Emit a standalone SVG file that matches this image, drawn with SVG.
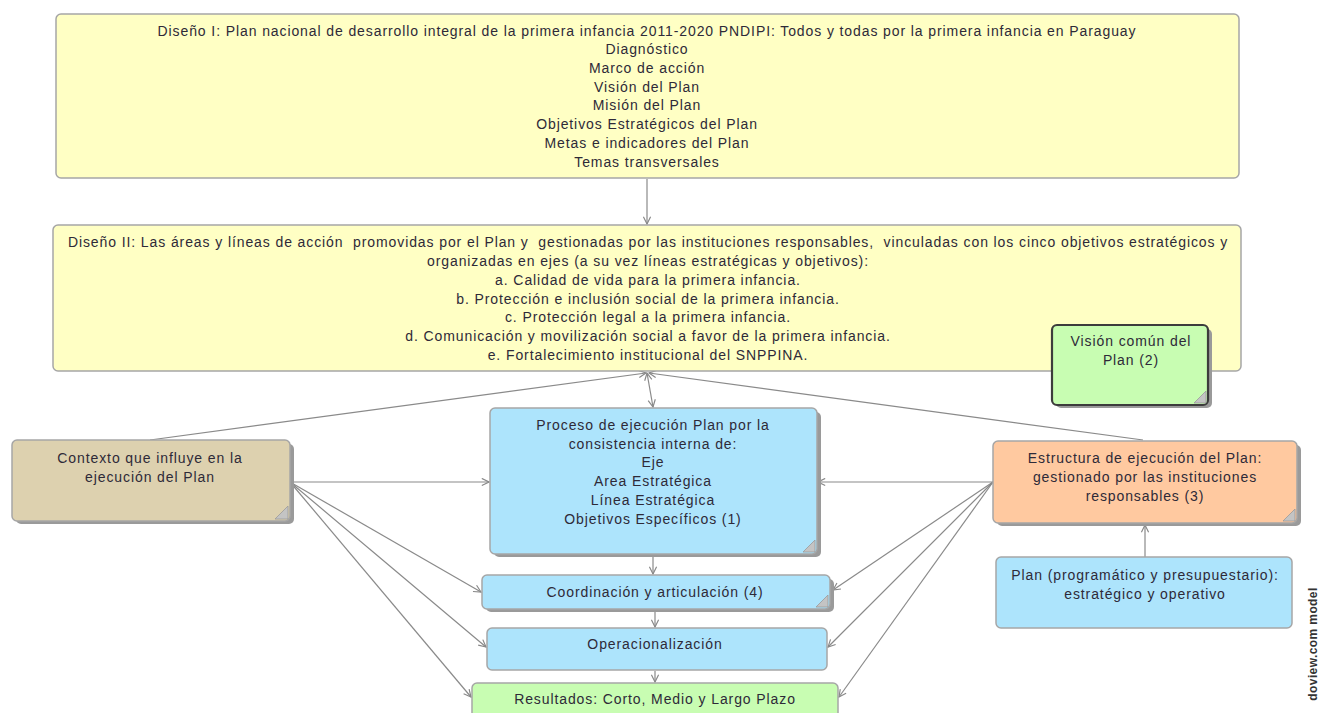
<svg xmlns="http://www.w3.org/2000/svg" width="1319" height="713" viewBox="0 0 1319 713">
<defs>
<marker id="arr" viewBox="0 0 10 10" refX="9" refY="5" markerWidth="9" markerHeight="9" markerUnits="userSpaceOnUse" orient="auto-start-reverse">
<path d="M1,1 L9,5 L1,9" fill="none" stroke="#888" stroke-width="1.3"/>
</marker>
</defs>
<style>
text{font-family:"Liberation Sans",Arial,sans-serif;font-size:14px;fill:#2e2a38;text-anchor:middle;letter-spacing:0.9px}
.box{stroke:#a6a6a6;stroke-width:1.5}
.yel{fill:#ffffc4}
.blue{fill:#ade4fc}
.tan{fill:#ddd1af}
.peach{fill:#ffc9a0}
.green{fill:#c8fdb2}
.sh{fill:#9a9a9a}
.fold{fill:#c4c4c4;stroke:#9a9a9a;stroke-width:0.8}
.con{stroke:#8a8a8a;stroke-width:1.2;fill:none;marker-end:url(#arr)}
</style>
<rect width="1319" height="713" fill="#fff"/>

<g id="connectors">
<line class="con" x1="647" y1="179" x2="647" y2="224"/>
<line class="con" x1="150" y1="440" x2="646" y2="373"/>
<line class="con" x1="1143" y1="440" x2="649" y2="373"/>
<line class="con" x1="647" y1="373" x2="653" y2="407" style="marker-start:url(#arr)"/>
<line class="con" x1="290" y1="482" x2="489" y2="482"/>
<line class="con" x1="290" y1="482" x2="481" y2="592"/>
<line class="con" x1="290" y1="482" x2="486" y2="647"/>
<line class="con" x1="290" y1="482" x2="471" y2="697"/>
<line class="con" x1="993" y1="482" x2="818" y2="482"/>
<line class="con" x1="993" y1="482" x2="833" y2="590"/>
<line class="con" x1="993" y1="482" x2="828" y2="647"/>
<line class="con" x1="993" y1="482" x2="839" y2="697"/>
<line class="con" x1="653" y1="555" x2="653" y2="574"/>
<line class="con" x1="655" y1="610" x2="655" y2="627"/>
<line class="con" x1="655" y1="671" x2="655" y2="682"/>
<line class="con" x1="1145" y1="557" x2="1145" y2="525"/>
</g>

<g id="diseno1">
<rect class="box yel" x="56" y="14" width="1183" height="164" rx="5"/>
<text x="647" y="36">Diseño I: Plan nacional de desarrollo integral de la primera infancia 2011-2020 PNDIPI: Todos y todas por la primera infancia en Paraguay</text>
<text x="647" y="54">Diagnóstico</text>
<text x="647" y="73">Marco de acción</text>
<text x="647" y="92">Visión del Plan</text>
<text x="647" y="110">Misión del Plan</text>
<text x="647" y="129">Objetivos Estratégicos del Plan</text>
<text x="647" y="148">Metas e indicadores del Plan</text>
<text x="647" y="167">Temas transversales</text>
</g>

<g id="diseno2">
<rect class="box yel" x="53" y="225" width="1188" height="146" rx="5"/>
<text x="648" y="247" xml:space="preserve">Diseño II: Las áreas y líneas de acción  promovidas por el Plan y  gestionadas por las instituciones responsables,  vinculadas con los cinco objetivos estratégicos y</text>
<text x="648" y="266">organizadas en ejes (a su vez líneas estratégicas y objetivos):</text>
<text x="648" y="285">a. Calidad de vida para la primera infancia.</text>
<text x="648" y="304">b. Protección e inclusión social de la primera infancia.</text>
<text x="648" y="322">c. Protección legal a la primera infancia.</text>
<text x="648" y="341">d. Comunicación y movilización social a favor de la primera infancia.</text>
<text x="648" y="360">e. Fortalecimiento institucional del SNPPINA.</text>
</g>

<g id="vision">
<rect class="sh" x="1056" y="329" width="156" height="79" rx="5"/>
<rect class="green" x="1052" y="325" width="156" height="80" rx="5" stroke="#3c3c3c" stroke-width="2.2"/>
<path class="fold" d="M1206,391 L1206,403 L1194,403 Z"/>
<text x="1131" y="346">Visión común del</text>
<text x="1131" y="365">Plan (2)</text>
</g>

<g id="contexto">
<rect class="sh" x="16" y="444" width="278" height="80" rx="5"/>
<rect class="box tan" x="12" y="440" width="278" height="81" rx="5"/>
<path class="fold" d="M288,506 L288,519 L275,519 Z"/>
<text x="150" y="463">Contexto que influye en la</text>
<text x="150" y="482">ejecución del Plan</text>
</g>

<g id="proceso">
<rect class="sh" x="494" y="412" width="327" height="145" rx="5"/>
<rect class="box blue" x="490" y="408" width="327" height="146" rx="5"/>
<path class="fold" d="M815,540 L815,552 L803,552 Z"/>
<text x="653" y="430">Proceso de ejecución Plan por la</text>
<text x="653" y="449">consistencia interna de:</text>
<text x="653" y="467">Eje</text>
<text x="653" y="486">Area Estratégica</text>
<text x="653" y="505">Línea Estratégica</text>
<text x="653" y="524">Objetivos Específicos (1)</text>
</g>

<g id="coordinacion">
<rect class="sh" x="486" y="579" width="348" height="33" rx="5"/>
<rect class="box blue" x="482" y="575" width="348" height="34" rx="5"/>
<path class="fold" d="M828,595 L828,607 L816,607 Z"/>
<text x="655" y="597">Coordinación y articulación (4)</text>
</g>

<g id="operacionalizacion">
<rect class="box blue" x="487" y="628" width="340" height="42" rx="5"/>
<text x="655" y="649">Operacionalización</text>
</g>

<g id="resultados">
<rect class="box green" x="472" y="683" width="366" height="40" rx="5"/>
<text x="655" y="704">Resultados: Corto, Medio y Largo Plazo</text>
</g>

<g id="estructura">
<rect class="sh" x="997" y="445" width="304" height="81" rx="5"/>
<rect class="box peach" x="993" y="441" width="304" height="82" rx="5"/>
<path class="fold" d="M1295,509 L1295,521 L1283,521 Z"/>
<text x="1145" y="463">Estructura de ejecución del Plan:</text>
<text x="1145" y="482">gestionado por las instituciones</text>
<text x="1145" y="501">responsables (3)</text>
</g>

<g id="plan">
<rect class="box blue" x="996" y="557" width="296" height="71" rx="5"/>
<text x="1145" y="580">Plan (programático y presupuestario):</text>
<text x="1145" y="599">estratégico y operativo</text>
</g>

<text x="1317" y="644" transform="rotate(-90 1317 644)" style="font-size:12px;font-weight:bold;fill:#333;letter-spacing:0.4px">doview.com model</text>
</svg>
